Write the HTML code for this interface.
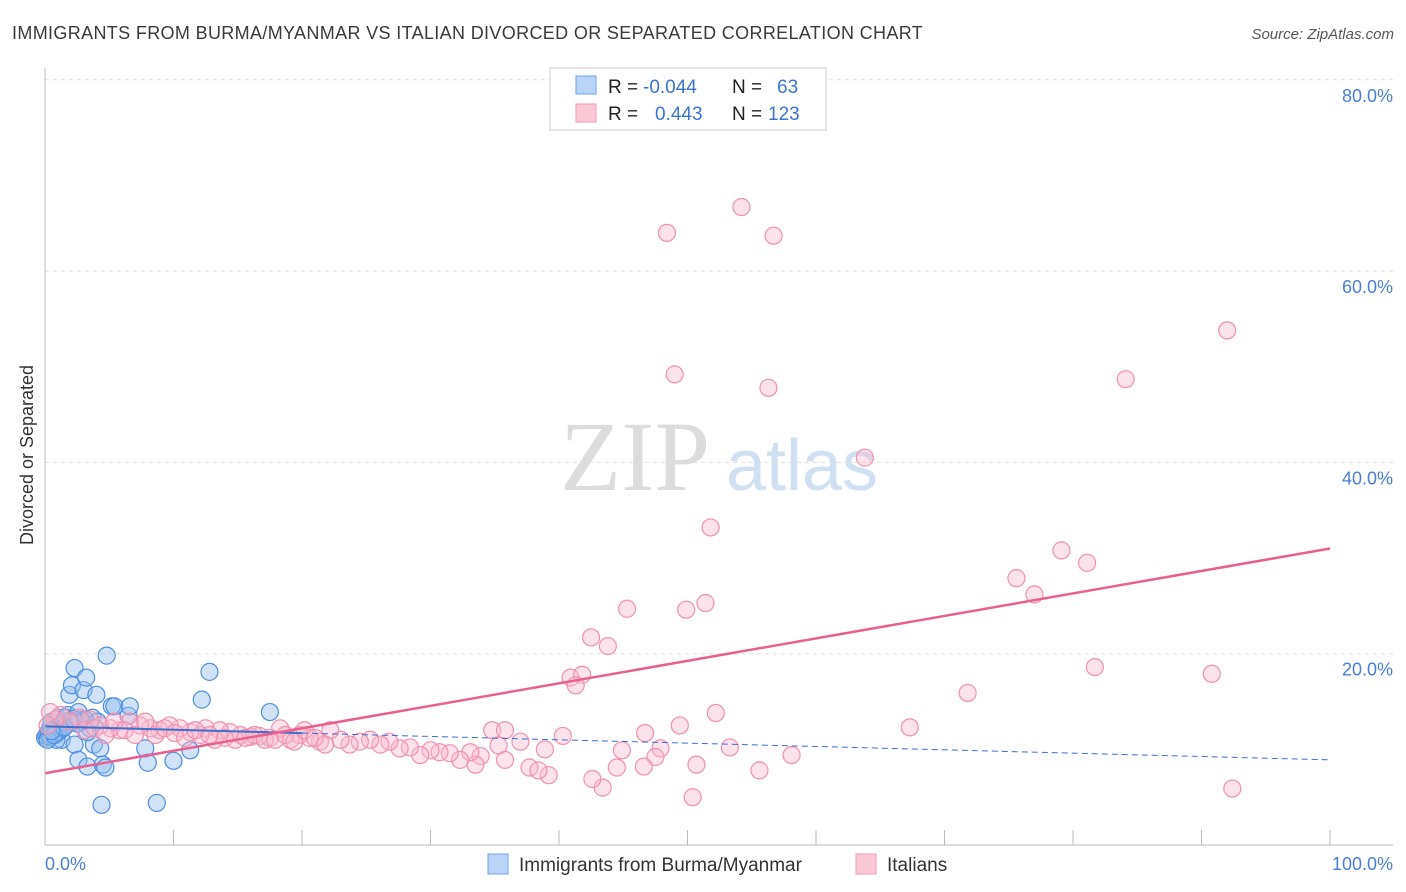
<!DOCTYPE html>
<html><head><meta charset="utf-8"><style>
body{margin:0;background:#fff;font-family:"Liberation Sans",sans-serif;}
#wrap{position:relative;width:1406px;height:892px;overflow:hidden}
</style></head><body>
<div id="wrap">
<svg id="svg" width="1406" height="892" xmlns="http://www.w3.org/2000/svg">
<text x="12" y="39" font-size="18" letter-spacing="0.35" fill="#3a3a3a">IMMIGRANTS FROM BURMA/MYANMAR VS ITALIAN DIVORCED OR SEPARATED CORRELATION CHART</text>
<text x="1394" y="39" font-size="15" fill="#555" font-style="italic" text-anchor="end">Source: ZipAtlas.com</text>
<text x="33" y="455" font-size="18" fill="#333" text-anchor="middle" transform="rotate(-90 33 455)">Divorced or Separated</text>
<g>
<text x="635" y="490" font-size="100" font-family="Liberation Serif,serif" fill="#dcdcdc" text-anchor="middle">ZIP</text>
<text x="802" y="490" font-size="72" fill="#cfe0f3" text-anchor="middle">atlas</text>
</g>
<g id="grid"></g><g id="pts"></g><g id="lines"></g>
<line x1="45" y1="68" x2="45" y2="845" stroke="#bbb"/>
<line x1="45" y1="845" x2="1393" y2="845" stroke="#bbb"/>
<text x="45" y="870" font-size="18" fill="#4a7fd4">0.0%</text>
<text x="1393" y="870" font-size="18" fill="#4a7fd4" text-anchor="end">100.0%</text>
<g>
<rect x="550" y="68" width="276" height="62" fill="#fff" stroke="#ccc"/>
<rect x="576" y="76" width="20" height="18" fill="#b8d4f6" stroke="#6fa3e6"/>
<rect x="576" y="104" width="20" height="18" fill="#fbc8d6" stroke="#f09ab4"/>
<text x="608" y="93" font-size="19" fill="#222">R =</text><text x="643" y="93" font-size="19" fill="#3b73d0">-0.044</text>
<text x="732" y="93" font-size="19" fill="#222">N =</text><text x="777" y="93" font-size="19" fill="#3b73d0">63</text>
<text x="608" y="120" font-size="19" fill="#222">R =</text><text x="655" y="120" font-size="19" fill="#3b73d0">0.443</text>
<text x="732" y="120" font-size="19" fill="#222">N =</text><text x="768" y="120" font-size="19" fill="#3b73d0">123</text>
</g>
<g>
<rect x="488" y="854" width="20" height="20" fill="#b8d4f6" stroke="#6fa3e6"/>
<text x="519" y="871" font-size="19" fill="#333">Immigrants from Burma/Myanmar</text>
<rect x="856" y="854" width="20" height="20" fill="#fbc8d6" stroke="#f09ab4"/>
<text x="887" y="871" font-size="19" fill="#333">Italians</text>
</g>
</svg>
</div>
<script>
const yTicks=[20,40,60,80];
const xTicks=[0,10,20,30,40,50,60,70,80,90,100];
const blueX=[0,0.2,0.4,0.5,0.8,1.0,1.2,1.3,1.6,1.8,1.9,2.1,2.3,2.3,2.6,2.7,2.9,3.0,3.2,3.3,3.5,3.7,3.8,4.0,4.1,4.3,4.4,4.5,4.7,4.8,5.2,5.4,6.5,6.6,7.8,8.0,8.7,10.0,11.3,12.2,12.8,17.5,0.9,1.2,1.6,2.3,2.6,2.9,3.3,0.1,0.3,0.6,0.4,1.0,1.4,0.2,2.0,2.5,3.1,0.7,1.5,2.2,0.5];
const blueY=[11.2,11.7,12.2,12.9,11.5,13.3,12.0,11.0,12.9,13.6,15.7,16.7,18.5,10.5,8.9,13.1,12.9,16.2,17.5,8.2,12.2,13.3,10.5,15.7,12.9,10.1,4.2,8.4,8.1,19.8,14.5,14.5,13.5,14.5,10.1,8.6,4.4,8.8,9.9,15.2,18.1,13.9,11.0,12.5,13.3,12.9,13.9,12.9,11.8,11.4,11.6,12.0,11.3,11.8,12.2,11.0,13.0,12.7,13.1,11.5,12.3,13.2,11.9];
const pinkX=[48.4,54.2,56.7,49.0,56.3,63.8,92.0,84.1,51.8,79.1,81.1,75.6,77.0,45.3,49.9,51.4,42.5,43.8,40.9,41.8,41.3,81.7,71.8,90.8,67.3,52.2,49.4,53.3,58.1,55.6,50.7,50.4,92.4,46.7,47.9,47.5,46.6,44.5,43.4,42.6,44.9,40.3,38.9,39.2,37.7,38.4,37.0,35.8,34.8,35.8,35.3,33.9,33.5,33.1,32.3,31.5,30.7,30.0,29.2,28.4,27.6,26.8,26.1,25.3,24.5,23.7,23.0,22.2,21.4,20.6,19.8,19.1,18.3,17.5,16.7,16.0,15.2,14.4,13.6,13.2,12.5,12.1,11.3,10.5,9.7,8.9,8.2,7.4,6.6,5.8,5.1,4.3,3.5,2.7,1.9,1.2,0.8,0.4,0.2,3.1,3.9,4.7,5.4,6.2,7.0,7.8,8.6,9.3,10.1,10.9,11.7,12.8,14.0,14.8,15.6,16.3,17.1,17.9,18.7,19.4,20.2,21.0,21.8];
const pinkY=[64.0,66.7,63.7,49.2,47.8,40.5,53.8,48.7,33.2,30.8,29.5,27.9,26.2,24.7,24.6,25.3,21.7,20.8,17.5,17.8,16.7,18.6,15.9,17.9,12.3,13.8,12.5,10.2,9.4,7.8,8.4,5.0,5.9,11.7,10.1,9.2,8.2,8.1,6.0,6.9,9.9,11.4,10.0,7.3,8.1,7.8,10.8,8.9,12.0,12.0,10.4,9.3,8.4,9.7,8.9,9.6,9.7,9.9,9.4,10.2,10.1,10.8,10.5,11.0,10.8,10.5,11.0,12.0,10.8,11.2,11.5,11.0,12.2,11.2,11.4,11.3,11.5,11.8,12.0,11.0,12.2,11.5,11.8,12.2,12.5,12.0,12.2,12.5,12.9,12.0,12.2,12.5,13.1,13.3,12.9,13.6,13.1,13.9,12.5,12.0,12.2,11.5,12.9,12.0,11.5,12.9,11.5,12.2,11.7,11.2,12.0,11.5,11.2,11.0,11.2,11.5,11.0,11.0,11.5,10.8,12.0,11.2,10.5];
const blueTrend=[12.4,8.9];
const pinkTrend=[7.5,31.0];
const X=v=>45+v*12.85, Y=v=>845-v*9.565;
const NS="http://www.w3.org/2000/svg";
function mk(t,a,p){const e=document.createElementNS(NS,t);for(const k in a)e.setAttribute(k,a[k]);p.appendChild(e);return e;}
const grid=document.getElementById('grid'),pts=document.getElementById('pts'),lines=document.getElementById('lines');
yTicks.forEach(v=>{
 const l=mk('line',{x1:45,x2:1393,y1:Y(v),y2:Y(v),stroke:'#ddd','stroke-dasharray':'4,4'},grid);
 
 
 const t=mk('text',{x:1393,y:Y(v)+22,'font-size':18,fill:'#4a7fd4','text-anchor':'end'},grid);
 t.textContent=v.toFixed(1)+'%';
 
 
});
xTicks.forEach(v=>{
 const l=mk('line',{x1:X(v),x2:X(v),y1:830,y2:845,stroke:'#bbb'},grid);
 
 
});
blueX.forEach((x,i)=>{
 const c=mk('circle',{cx:X(x),cy:Y(blueY[i]),r:8.5,fill:'rgba(150,190,238,0.45)',stroke:'#4d8fe0','stroke-width':1.2},pts);
 
 
});
pinkX.forEach((x,i)=>{
 const c=mk('circle',{cx:X(x),cy:Y(pinkY[i]),r:8.5,fill:'rgba(248,185,205,0.4)',stroke:'#f090b0','stroke-width':1.2},pts);
 
 
});
const by=x=>blueTrend[0]+(blueTrend[1]-blueTrend[0])*x/100;
const b1=mk('line',{x1:X(0),y1:Y(by(0)),x2:X(20),y2:Y(by(20)),stroke:'#3d6fd0','stroke-width':2},lines);


const b2=mk('line',{x1:X(20),y1:Y(by(20)),x2:X(100),y2:Y(by(100)),stroke:'#3d6fd0','stroke-width':1,'stroke-dasharray':'6,4'},lines);


const p=mk('line',{x1:X(0),y1:Y(pinkTrend[0]),x2:X(100),y2:Y(pinkTrend[1]),stroke:'#e8608e','stroke-width':2.5},lines);


</script>
</body></html>
